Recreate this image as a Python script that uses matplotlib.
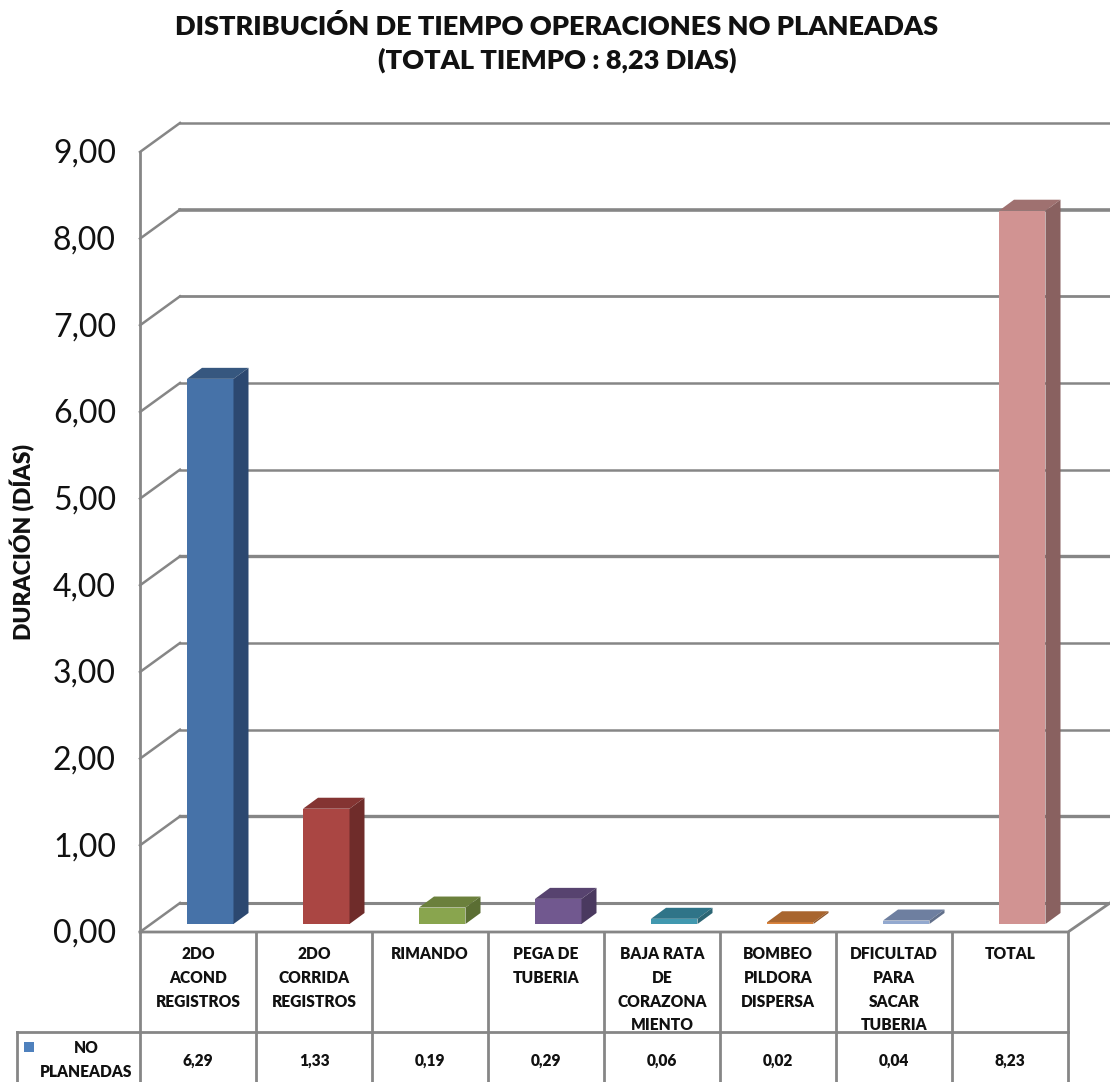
#!/usr/bin/env python3
# -*- coding: utf-8 -*-
import numpy as np
import matplotlib
matplotlib.use('Agg')
import matplotlib.pyplot as plt
from matplotlib.patches import Polygon

plt.rcParams['font.family'] = ['Lato', 'DejaVu Sans']

# data
categorias = ['2DO\nACOND\nREGISTROS', '2DO\nCORRIDA\nREGISTROS', 'RIMANDO', 'PEGA DE\nTUBERIA',
              'BAJA RATA\nDE\nCORAZONA\nMIENTO', 'BOMBEO\nPILDORA\nDISPERSA',
              'DFICULTAD\nPARA\nSACAR\nTUBERIA', 'TOTAL']
valores = [6.29, 1.33, 0.19, 0.29, 0.06, 0.02, 0.04, 8.23]
y_ticks = [0, 1, 2, 3, 4, 5, 6, 7, 8, 9]

# front, top and side colours of each column
frente = ['#4672a8', '#aa4643', '#89a54e', '#71588f', '#4198af', '#db843d', '#93a9cf', '#d19392']
arriba = ['#36577f', '#843432', '#6b803c', '#57436f', '#2f7488', '#a8652e', '#6e7fa0', '#9f7170']
lado = ['#2c4870', '#6f2c2a', '#5b6e33', '#4a395f', '#2b6574', '#915628', '#62708b', '#896160']

W, H = 1110, 1082
PX_X = 116.0    # pixels per category
PX_Y = 86.67    # pixels per dia
X0, Y0 = 140, 932  # pixel of the origin

fig = plt.figure(figsize=(W / 100, H / 100), dpi=100)
ax = fig.add_axes([0, 0, 1, 1])
ax.set_xlim(-X0 / PX_X, (W - X0) / PX_X)
ax.set_ylim(-(H - Y0) / PX_Y, Y0 / PX_Y)
ax.axis('off')

dx = lambda px: px / PX_X
dy = lambda px: px / PX_Y
gris = '#868686'
n = len(valores)
negrita = 'heavy'

# back wall lines and their slanted part on the left wall
grosor = {0: 2.2, 1: 2.4, 2: 1.8, 3: 1.8, 4: 2.4, 5: 1.8, 6: 1.8, 7: 2.0, 8: 2.6, 9: 1.8}
for t in y_ticks:
    ax.plot([0, dx(40)], [t, t + dy(29)], color=gris, lw=1.8, zorder=1)
    ax.plot([dx(40), dx(W - X0)], [t + dy(29), t + dy(29)], color=gris, lw=grosor[t], zorder=1)
    ax.text(dx(-24), t - dy(2), ('%.2f' % t).replace('.', ','), ha='right', va='center', fontsize=23,
            color='#111111')
ax.plot([0, 0], [0, 9], color=gris, lw=2, zorder=1)

# floor
ax.plot([0, n, dx(W - X0)], [0, 0, dy(29)], color=gris, lw=2, zorder=1)

# columns
ancho = dx(46.5)
for i, v in enumerate(valores):
    x = i + dx(47)
    b = dy(8)
    prof_x, prof_y = dx(15), dy(11)
    ax.add_patch(Polygon([(x, b), (x + ancho, b), (x + ancho, b + v), (x, b + v)], fc=frente[i], ec='none', zorder=3))
    ax.add_patch(Polygon([(x, b + v), (x + ancho, b + v), (x + ancho + prof_x, b + v + prof_y), (x + prof_x, b + v + prof_y)],
                         fc=arriba[i], ec='none', zorder=3))
    ax.add_patch(Polygon([(x + ancho, b), (x + ancho + prof_x, b + prof_y), (x + ancho + prof_x, b + v + prof_y), (x + ancho, b + v)],
                         fc=lado[i], ec='none', zorder=3))

# data table
y_fila = -dy(100)
y_fin = -(H - Y0) / PX_Y
for i in range(n + 1):
    ax.plot([i, i], [0, y_fin], color=gris, lw=2, zorder=2)
ax.plot([dx(17 - X0), n], [y_fila, y_fila], color=gris, lw=2, zorder=2)
ax.plot([dx(17 - X0), dx(17 - X0)], [y_fila, y_fin], color=gris, lw=2, zorder=2)
for i, cat in enumerate(categorias):
    ax.text(i + 0.5, -dy(14), cat, ha='center', va='top', fontsize=11.2, fontweight=negrita,
            linespacing=1.6, color='#111111')
    ax.text(i + 0.5, -dy(129), ('%.2f' % valores[i]).replace('.', ','), ha='center', va='center',
            fontsize=11.2, fontweight=negrita, color='#111111')

# legend cell
ax.add_patch(Polygon([(dx(24 - X0), -dy(110)), (dx(34 - X0), -dy(110)), (dx(34 - X0), -dy(120)), (dx(24 - X0), -dy(120))],
                     fc='#4f81bd', ec='none', zorder=3))
ax.text(dx(86 - X0), -dy(128), 'NO\nPLANEADAS', ha='center', va='center', fontsize=11.2, fontweight=negrita,
        linespacing=1.6, color='#111111')

# titles
ax.text(dx(557 - X0), dy(Y0 - 43.5), 'DISTRIBUCIÓN DE TIEMPO OPERACIONES NO PLANEADAS\n(TOTAL TIEMPO : 8,23 DIAS)',
        ha='center', va='center', fontsize=19.5, fontweight=negrita, linespacing=1.45, color='#111111')
ax.text(dx(23 - X0), dy(Y0 - 542), 'DURACIÓN (DÍAS)', rotation=90, ha='center', va='center',
        fontsize=16.5, fontweight=negrita, color='#111111')

fig.savefig('out.png', dpi=100)
